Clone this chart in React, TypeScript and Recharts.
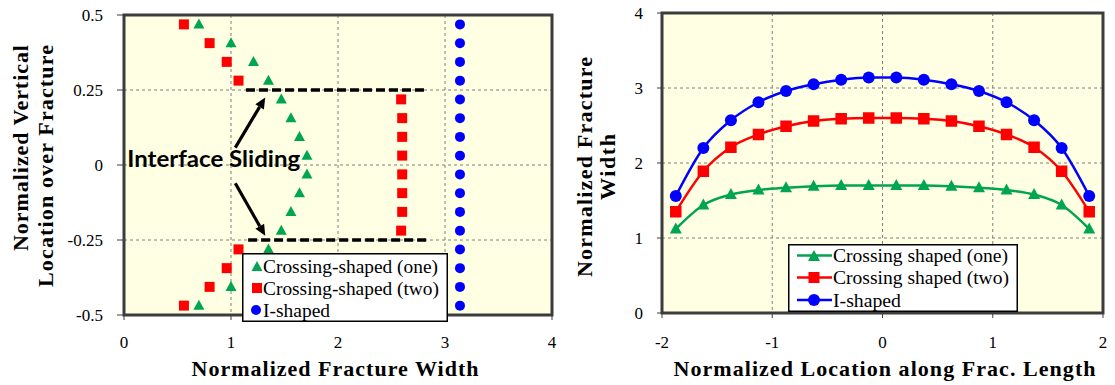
import React from 'react';
import {
  ScatterChart, Scatter, LineChart, Line, XAxis, YAxis, CartesianGrid,
  ReferenceLine, ReferenceArea, ReferenceDot, Legend, Label,
} from 'recharts';

// ---------- Left chart data (fracture width profile over height) ----------
const verticalLocation = [0.46875, 0.40625, 0.34375, 0.28125, 0.21875, 0.15625, 0.09375, 0.03125, -0.03125, -0.09375, -0.15625, -0.21875, -0.28125, -0.34375, -0.40625, -0.46875];
const widthCrossingOne = [0.70, 1.00, 1.21, 1.35, 1.47, 1.56, 1.64, 1.71, 1.71, 1.64, 1.56, 1.47, 1.35, 1.21, 1.00, 0.70];
const widthCrossingTwo = [0.56, 0.80, 0.96, 1.07, 2.59, 2.60, 2.60, 2.60, 2.60, 2.60, 2.60, 2.59, 1.07, 0.96, 0.80, 0.56];
const widthIShaped = [3.14, 3.14, 3.14, 3.14, 3.14, 3.14, 3.14, 3.14, 3.14, 3.14, 3.14, 3.14, 3.14, 3.14, 3.14, 3.14];

// ---------- Right chart data (fracture width along length) ----------
const lengthLocation = [-1.875, -1.625, -1.375, -1.125, -0.875, -0.625, -0.375, -0.125, 0.125, 0.375, 0.625, 0.875, 1.125, 1.375, 1.625, 1.875];
const profileCrossingOne = [1.12, 1.44, 1.58, 1.64, 1.67, 1.69, 1.70, 1.70, 1.70, 1.70, 1.69, 1.67, 1.64, 1.58, 1.44, 1.12];
const profileCrossingTwo = [1.35, 1.89, 2.21, 2.38, 2.49, 2.56, 2.59, 2.60, 2.60, 2.59, 2.56, 2.49, 2.38, 2.21, 1.89, 1.35];
const profileIShaped = [1.56, 2.20, 2.57, 2.81, 2.96, 3.05, 3.11, 3.14, 3.14, 3.11, 3.05, 2.96, 2.81, 2.57, 2.20, 1.56];

// ---------- Ticks, names, annotations ----------
const leftXTicks = [0, 1, 2, 3, 4];
const leftYTicks = [-0.5, -0.25, 0, 0.25, 0.5];
const rightXTicks = [-2, -1, 0, 1, 2];
const rightYTicks = [0, 1, 2, 3, 4];
const leftSeriesNames = ['Crossing-shaped (one)', 'Crossing-shaped (two)', 'I-shaped'];
const rightSeriesNames = ['Crossing shaped (one)', 'Crossing shaped (two)', 'I-shaped'];
const slidingTopLine = [{ x: 1.14, y: 0.25 }, { x: 2.83, y: 0.25 }];
const slidingBottomLine = [{ x: 1.16, y: -0.25 }, { x: 2.85, y: -0.25 }];
const arrowUp = [{ x: 1.04, y: 0.058 }, { x: 1.32, y: 0.225 }];
const arrowDown = [{ x: 1.04, y: -0.061 }, { x: 1.32, y: -0.236 }];
const annotationText = 'Interface Sliding';
const annotationPos = { x: 0.03, y: -0.007 };

const GREEN = '#00A550';
const RED = '#FF0000';
const BLUE = '#0000FF';
const BG = '#FFFFE3';
const BORDER = '#3C3C3C';
const SERIF = 'Liberation Serif, DejaVu Serif, serif';

const leftOne = verticalLocation.map((y, i) => ({ x: widthCrossingOne[i], y }));
const leftTwo = verticalLocation.map((y, i) => ({ x: widthCrossingTwo[i], y }));
const leftI = verticalLocation.map((y, i) => ({ x: widthIShaped[i], y }));
const rightData = lengthLocation.map((x, i) => ({
  x, one: profileCrossingOne[i], two: profileCrossingTwo[i], ishape: profileIShaped[i],
}));

const Tri = ({ cx, cy, w, h, fill }: any) => (
  <polygon points={`${cx},${cy - h * 0.6} ${cx + w / 2},${cy + h * 0.4} ${cx - w / 2},${cy + h * 0.4}`} fill={fill} />
);
const Sq = ({ cx, cy, s, fill }: any) => (
  <rect x={cx - s / 2} y={cy - s / 2} width={s} height={s} fill={fill} />
);
const Circ = ({ cx, cy, r, fill }: any) => <circle cx={cx} cy={cy} r={r} fill={fill} />;

const titleStyle: any = { fontFamily: SERIF, fontWeight: 'bold', fontSize: 22, fill: '#000' };
const tickStyle: any = { fontFamily: SERIF, fontSize: 17, fill: '#000' };

const Arrow = (p: any) => {
  const { x1, y1, x2, y2 } = p;
  const ang = Math.atan2(y2 - y1, x2 - x1);
  const L = 11, W = 5;
  const bx = x2 - L * Math.cos(ang), by = y2 - L * Math.sin(ang);
  const px = -Math.sin(ang) * W, py = Math.cos(ang) * W;
  return (
    <g>
      <line x1={x1} y1={y1} x2={bx} y2={by} stroke="#000" strokeWidth={3.2} />
      <polygon points={`${x2},${y2} ${bx + px},${by + py} ${bx - px},${by - py}`} fill="#000" />
    </g>
  );
};

// Legend drawn as a small SVG box so text widths can be matched
const legendBox = (opts: any) => () => {
  const { names, icons, w, h, rows, textX, widths } = opts;
  return (
    <svg width={w} height={h} style={{ display: 'block' }}>
      <rect x={0.75} y={0.75} width={w - 1.5} height={h - 1.5} fill="#fff" stroke="#000" strokeWidth={1.5} />
      {names.map((n: string, i: number) => (
        <g key={n}>
          {icons[i](rows[i])}
          <text x={textX} y={rows[i]} dominantBaseline="central" fontFamily={SERIF} fontSize={19} fill="#000"
            textLength={widths[i]} lengthAdjust="spacingAndGlyphs">{n}</text>
        </g>
      ))}
    </svg>
  );
};

const leftIcons = [
  (cy: number) => <Tri cx={15} cy={cy + 1} w={11} h={10} fill={GREEN} />,
  (cy: number) => <Sq cx={15} cy={cy} s={10} fill={RED} />,
  (cy: number) => <Circ cx={14} cy={cy} r={5} fill={BLUE} />,
];
const rightIcons = [
  (cy: number) => (<g><line x1={9} y1={cy} x2={44} y2={cy} stroke={GREEN} strokeWidth={2.5} /><Tri cx={26} cy={cy + 1} w={12} h={11} fill={GREEN} /></g>),
  (cy: number) => (<g><line x1={9} y1={cy} x2={44} y2={cy} stroke={RED} strokeWidth={2.5} /><Sq cx={26} cy={cy} s={11} fill={RED} /></g>),
  (cy: number) => (<g><line x1={9} y1={cy} x2={44} y2={cy} stroke={BLUE} strokeWidth={2.5} /><Circ cx={26} cy={cy} r={6} fill={BLUE} /></g>),
];

const LeftChart = () => (
  <ScatterChart width={560} height={385} margin={{ top: 15, right: 8, bottom: 40, left: 64 }} style={{ fontFamily: SERIF }}>
    <CartesianGrid fill={BG} stroke="#808080" strokeDasharray="3 3" />
    <XAxis type="number" dataKey="x" domain={[0, 4]} ticks={leftXTicks} height={30}
      tick={tickStyle} tickSize={5} tickMargin={16} stroke={BORDER}>
      <Label content={(p: any) => {
        const vb = p.viewBox;
        return <text x={vb.x + vb.width / 2 - 3} y={vb.y + 53} textAnchor="middle" dominantBaseline="central" fontFamily={SERIF} style={titleStyle}
          textLength={287} lengthAdjust="spacing">Normalized Fracture Width</text>;
      }} />
    </XAxis>
    <YAxis type="number" dataKey="y" domain={[-0.5, 0.5]} ticks={leftYTicks} width={60}
      tick={tickStyle} tickSize={7} tickMargin={14} stroke={BORDER}>
      <Label content={(p: any) => {
        const vb = p.viewBox; const px = vb.x + vb.width;
        const x1 = px - 104, x2 = px - 79, y = 45;
        return (
          <g>
            <text x={x1} y={y} transform={`rotate(-90 ${x1} ${y})`} textAnchor="end" dominantBaseline="central" fontFamily={SERIF} style={titleStyle}
              textLength={206} lengthAdjust="spacing">Normalized Vertical</text>
            <text x={x2} y={y} transform={`rotate(-90 ${x2} ${y})`} textAnchor="end" dominantBaseline="central" fontFamily={SERIF} style={titleStyle}
              textLength={242} lengthAdjust="spacing">Location over Fracture</text>
          </g>
        );
      }} />
    </YAxis>
    <ReferenceArea x1={0} x2={4} y1={-0.5} y2={0.5} fill="none" stroke={BORDER} strokeWidth={3} />
    <Scatter name={leftSeriesNames[0]} data={leftOne} isAnimationActive={false}
      shape={(p: any) => <Tri cx={p.cx} cy={p.cy} w={11} h={10} fill={GREEN} />} />
    <Scatter name={leftSeriesNames[1]} data={leftTwo} isAnimationActive={false}
      shape={(p: any) => <Sq cx={p.cx} cy={p.cy} s={10} fill={RED} />} />
    <Scatter name={leftSeriesNames[2]} data={leftI} isAnimationActive={false}
      shape={(p: any) => <Circ cx={p.cx} cy={p.cy} r={5} fill={BLUE} />} />
    <ReferenceLine segment={slidingTopLine} stroke="#000" strokeWidth={3.5} strokeDasharray="9 4" />
    <ReferenceLine segment={slidingBottomLine} stroke="#000" strokeWidth={3.5} strokeDasharray="9 4" />
    <ReferenceLine segment={arrowUp} shape={Arrow} />
    <ReferenceLine segment={arrowDown} shape={Arrow} />
    <ReferenceDot x={annotationPos.x} y={annotationPos.y} shape={(p: any) => (
      <text x={p.cx} y={p.cy} textAnchor="start" style={{ fontFamily: 'Lato, "Open Sans", sans-serif', fontWeight: 'bold', fontSize: 22, fill: '#000' }}
        textLength={173} lengthAdjust="spacingAndGlyphs">{annotationText}</text>
    )} />
    <Legend layout="vertical" align="center" verticalAlign="middle"
      wrapperStyle={{ left: 242, top: 253, width: 206, height: 69 }}
      content={legendBox({ names: leftSeriesNames, icons: leftIcons, w: 206, h: 69, rows: [13, 35, 57], textX: 21, widths: [175, 176, 67] })} />
  </ScatterChart>
);

const RightChart = () => (
  <LineChart width={555} height={385} data={rightData} margin={{ top: 13, right: 12, bottom: 42, left: 52 }} style={{ fontFamily: SERIF }}>
    <CartesianGrid fill={BG} stroke="#808080" strokeDasharray="3 3" />
    <XAxis type="number" dataKey="x" domain={[-2, 2]} ticks={rightXTicks} height={30}
      tick={tickStyle} tickSize={5} tickMargin={18} stroke={BORDER}>
      <Label content={(p: any) => {
        const vb = p.viewBox;
        return <text x={vb.x + vb.width / 2 + 2} y={vb.y + 55} textAnchor="middle" dominantBaseline="central" fontFamily={SERIF} style={titleStyle}
          textLength={422} lengthAdjust="spacing">Normalized Location along Frac. Length</text>;
      }} />
    </XAxis>
    <YAxis type="number" domain={[0, 4]} ticks={rightYTicks} width={50}
      tick={tickStyle} tickSize={5} tickMargin={14} stroke={BORDER}>
      <Label content={(p: any) => {
        const vb = p.viewBox; const px = vb.x + vb.width;
        const x1 = px - 78, x2 = px - 55, y = vb.y + vb.height / 2 + 4;
        return (
          <g>
            <text x={x1} y={y} transform={`rotate(-90 ${x1} ${y})`} textAnchor="middle" dominantBaseline="central" fontFamily={SERIF} style={titleStyle}
              textLength={220} lengthAdjust="spacing">Normalized Fracture</text>
            <text x={x2} y={y} transform={`rotate(-90 ${x2} ${y})`} textAnchor="middle" dominantBaseline="central" fontFamily={SERIF} style={titleStyle}
              textLength={66} lengthAdjust="spacing">Width</text>
          </g>
        );
      }} />
    </YAxis>
    <ReferenceArea x1={-2} x2={2} y1={0} y2={4} fill="none" stroke={BORDER} strokeWidth={3} />
    <Line type="monotone" dataKey="one" name={rightSeriesNames[0]} stroke={GREEN} strokeWidth={2.5} isAnimationActive={false} activeDot={false}
      dot={(p: any) => <Tri key={`t${p.index}`} cx={p.cx} cy={p.cy} w={12} h={11} fill={GREEN} />} />
    <Line type="monotone" dataKey="two" name={rightSeriesNames[1]} stroke={RED} strokeWidth={2.5} isAnimationActive={false} activeDot={false}
      dot={(p: any) => <Sq key={`s${p.index}`} cx={p.cx} cy={p.cy} s={11.5} fill={RED} />} />
    <Line type="monotone" dataKey="ishape" name={rightSeriesNames[2]} stroke={BLUE} strokeWidth={2.5} isAnimationActive={false} activeDot={false}
      dot={(p: any) => <Circ key={`c${p.index}`} cx={p.cx} cy={p.cy} r={6} fill={BLUE} />} />
    <Legend layout="vertical" align="center" verticalAlign="middle"
      wrapperStyle={{ left: 228, top: 244, width: 230, height: 68 }}
      content={legendBox({ names: rightSeriesNames, icons: rightIcons, w: 230, h: 68, rows: [11.5, 33.5, 56], textX: 45, widths: [175, 176, 68] })} />
  </LineChart>
);

export default function App() {
  return (
    <div style={{ position: 'absolute', left: 0, top: 0, width: 1115, height: 385, background: '#fff', fontFamily: SERIF }}>
      <div style={{ position: 'absolute', left: 0, top: 0 }}><LeftChart /></div>
      <div style={{ position: 'absolute', left: 560, top: 0 }}><RightChart /></div>
    </div>
  );
}
